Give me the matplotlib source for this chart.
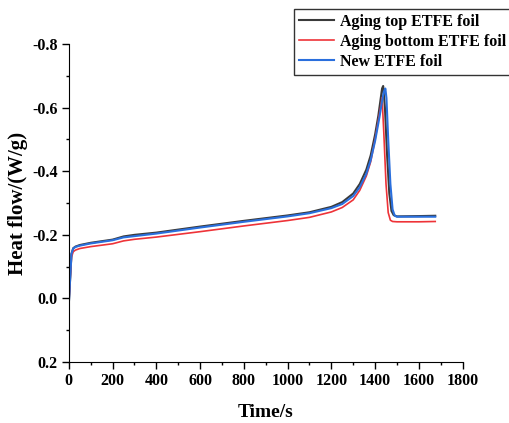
import matplotlib.pyplot as plt
from matplotlib.ticker import MultipleLocator

plt.rcParams["font.family"] = ["Liberation Serif", "DejaVu Serif"]
plt.rcParams["font.weight"] = "bold"

# time (s) and heat flow (W/g)
time_top = [0, 5, 12, 20, 30, 50, 100, 200, 250, 300, 400, 600, 800, 1000, 1100, 1200,
            1250, 1300, 1330, 1360, 1380, 1400, 1415, 1425, 1432, 1437, 1445, 1455,
            1465, 1475, 1485, 1500, 1600, 1675]
flow_top = [0.015, -0.05, -0.14, -0.158, -0.163, -0.168, -0.175, -0.185, -0.195, -0.2,
            -0.207, -0.226, -0.244, -0.261, -0.271, -0.288, -0.303, -0.33, -0.36, -0.405,
            -0.45, -0.515, -0.575, -0.625, -0.66, -0.668, -0.6, -0.45, -0.33, -0.275,
            -0.262, -0.258, -0.259, -0.26]

time_bottom = [0, 5, 12, 20, 30, 50, 100, 200, 250, 300, 400, 600, 800, 1000, 1100, 1200,
               1250, 1300, 1330, 1360, 1380, 1400, 1415, 1425, 1432, 1440, 1450,
               1460, 1470, 1480, 1500, 1600, 1675]
flow_bottom = [0.015, -0.05, -0.13, -0.147, -0.152, -0.157, -0.163, -0.172, -0.181, -0.186,
               -0.193, -0.21, -0.228, -0.245, -0.255, -0.272, -0.286, -0.31, -0.34,
               -0.385, -0.43, -0.5, -0.56, -0.6, -0.632, -0.52, -0.36, -0.27, -0.246,
               -0.242, -0.241, -0.241, -0.242]

time_new = [0, 5, 12, 20, 30, 50, 100, 200, 250, 300, 400, 600, 800, 1000, 1100, 1200,
            1250, 1300, 1330, 1360, 1380, 1400, 1420, 1432, 1440, 1447, 1452, 1460,
            1470, 1480, 1490, 1500, 1600, 1675]
flow_new = [0.015, -0.05, -0.14, -0.157, -0.162, -0.166, -0.173, -0.183, -0.192, -0.196,
            -0.204, -0.223, -0.241, -0.258, -0.268, -0.284, -0.297, -0.322, -0.35, -0.392,
            -0.435, -0.495, -0.57, -0.62, -0.65, -0.66, -0.63, -0.5, -0.36, -0.28,
            -0.26, -0.257, -0.257, -0.257]

fig = plt.figure(figsize=(5.1, 4.23), dpi=100)
ax = fig.add_axes([0.135, 0.144, 0.772, 0.752])

ax.plot(time_top, flow_top, color="#3a3a3a", lw=1.5, label="Aging top ETFE foil")
ax.plot(time_bottom, flow_bottom, color="#ee3338", lw=1.2, label="Aging bottom ETFE foil")
ax.plot(time_new, flow_new, color="#2a6fdd", lw=1.5, label="New ETFE foil")

ax.set_xlim(0, 1800)
ax.set_ylim(0.2, -0.8)
ax.xaxis.set_major_locator(MultipleLocator(200))
ax.xaxis.set_minor_locator(MultipleLocator(100))
ax.yaxis.set_major_locator(MultipleLocator(0.2))
ax.yaxis.set_minor_locator(MultipleLocator(0.1))
ax.tick_params(which="major", direction="out", length=5, width=1, labelsize=11.5, pad=3)
ax.tick_params(which="minor", direction="out", length=2.5, width=1)
ax.spines["top"].set_visible(False)
ax.spines["right"].set_visible(False)
ax.yaxis.set_major_formatter(plt.FuncFormatter(lambda v, p: f"{v:.1f}".replace("-0.0", "0.0")))

ax.set_xlabel("Time/s", fontsize=14, fontweight="bold", labelpad=11)
ax.set_ylabel("Heat flow/(W/g)", fontsize=15, fontweight="bold", labelpad=3)

leg = fig.legend(loc="upper left", bbox_to_anchor=(294 / 510, 1 - 9 / 423), fontsize=11.5,
                 frameon=True, fancybox=False, edgecolor="black", handlelength=2.2,
                 handletextpad=0.35, borderpad=0.3, labelspacing=0.25, borderaxespad=0)
leg.get_frame().set_linewidth(1.0)

plt.savefig("out.png", dpi=100)
plt.close()
